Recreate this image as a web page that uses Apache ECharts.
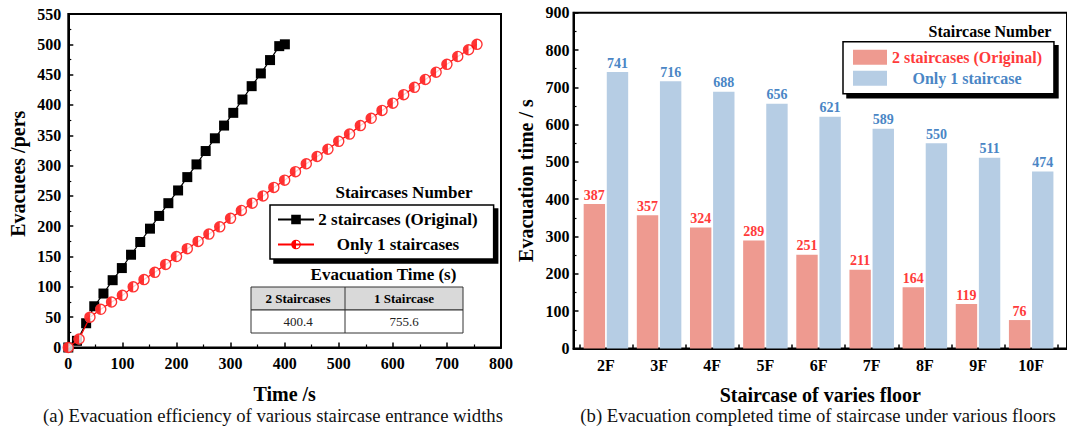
<!DOCTYPE html>
<html><head><meta charset="utf-8">
<script src="https://cdn.jsdelivr.net/npm/echarts@6/dist/echarts.min.js"></script>
<style>html,body{margin:0;padding:0;background:#fff;}#c{width:1067px;height:432px;}</style>
</head><body><div id="c"></div>
<script>
// ---- (a) cumulative evacuees vs time ----
const twoStairTime = [0,16,33,48,65,82,99,116,133,151,168,185,203,220,237,254,271,288,305,322,339,356,373,390,400.4];
const twoStairEvac = [0,11,40,68,89,111,131,153,174,196,217,238,259,281,302,324,345,366,387,409,431,452,474,497,500];
const oneStairTime = [0,20,40,60,80,100,120,140,160,180,200,220,240,260,280,300,320,340,360,380,400,420,440,460,480,500,520,540,560,580,600,620,640,660,680,700,720,740,755.6];
const oneStairEvac = [0,14,50,63,75,86,100,112,124,137,150,163,175,187,199,213,226,238,250,264,276,290,303,315,327,340,352,366,378,391,403,417,429,442,454,467,480,491,500];
const tableHeaders = ['2 Staircases','1 Staircase'];
const tableValues = ['400.4','755.6'];
// ---- (b) evacuation completed time per floor ----
const floors = ['2F','3F','4F','5F','6F','7F','8F','9F','10F'];
const twoStairsFloor = [387,357,324,289,251,211,164,119,76];
const oneStairFloor = [741,716,688,656,621,589,550,511,474];

const FONT = 'Liberation Serif';
const chart = echarts.init(document.getElementById('c'), null, {renderer:'svg'});
const halfPath = 'path://M10 0A10 10 0 1 1 10 20A10 10 0 1 1 10 0ZM10 17.6A7.6 7.6 0 0 0 10 2.4Z';
const lab = (sz, w) => ({fontFamily:FONT, fontWeight:w||'bold', fontSize:sz, color:'#000'});
const redPts = oneStairTime.map((t,i)=>[t, oneStairEvac[i]]);
const blackPts = twoStairTime.map((t,i)=>[t, twoStairEvac[i]]);

const floorIdx = floors.map((_,i)=>i);
const floorBounds = floors.map((_,i)=>i-0.5).concat([floors.length-0.5]);

function axisCommon(){
  return {
    axisLine:{show:true, onZero:false, lineStyle:{color:'#000', width:2}},
    axisTick:{show:true, inside:true, length:5, lineStyle:{color:'#000', width:1.5}},
    minorTick:{show:true, splitNumber:2, length:3, lineStyle:{color:'#000', width:1.2}},
    splitLine:{show:false},
    nameTextStyle:lab(20)
  };
}
function txt(x, y, s, size, weight, fill){
  return {type:'text', x:x, y:y, style:{text:s, font:(weight==='bold'?'bold ':'')+size+'px '+FONT, fontFamily:FONT, fontSize:size, fontWeight:weight, fill:fill||'#000', align:'center', verticalAlign:'middle'}};
}

// table graphic built from arrays
const tbl = {x:251, y:287, colW:[94,118], rowH:23};
const tblEls = [];
const tw = tbl.colW[0]+tbl.colW[1];
tblEls.push({type:'rect', shape:{x:tbl.x, y:tbl.y, width:tw, height:tbl.rowH}, style:{fill:'#D9D9D9', stroke:'#333', lineWidth:1}});
tblEls.push({type:'rect', shape:{x:tbl.x, y:tbl.y+tbl.rowH, width:tw, height:tbl.rowH}, style:{fill:'#fff', stroke:'#333', lineWidth:1}});
tblEls.push({type:'line', shape:{x1:tbl.x+tbl.colW[0], y1:tbl.y, x2:tbl.x+tbl.colW[0], y2:tbl.y+2*tbl.rowH}, style:{stroke:'#333', lineWidth:1}});
let cx = tbl.x;
tableHeaders.forEach((h,i)=>{
  const mid = cx + tbl.colW[i]/2;
  tblEls.push(txt(mid, tbl.y+tbl.rowH/2, h, 13, 'bold', '#000'));
  tblEls.push(txt(mid, tbl.y+tbl.rowH*1.5, tableValues[i], 13, 'normal', '#222'));
  cx += tbl.colW[i];
});

const option = {
  animation:false,
  backgroundColor:'#fff',
  textStyle:{fontFamily:FONT},
  grid:[
    {left:68.3, top:14, width:432.7, height:333.5, show:true, borderColor:'#000', borderWidth:2, backgroundColor:'transparent'},
    {left:573.5, top:12.7, right:-6, height:335.7, show:true, borderColor:'#000', borderWidth:2, backgroundColor:'transparent'}
  ],
  xAxis:[
    Object.assign(axisCommon(), {type:'value', gridIndex:0, min:0, max:800, interval:100,
      axisLabel:Object.assign(lab(16), {margin:8}),
      name:'Time /s', nameLocation:'middle', nameGap:36}),
    Object.assign(axisCommon(), {type:'value', gridIndex:1, min:-0.61, max:8.674,
      axisTick:{show:true, inside:true, length:4, lineStyle:{color:'#000', width:1.5}, customValues:floorBounds},
      minorTick:{show:false},
      axisLabel:Object.assign(lab(16), {margin:9, customValues:floorIdx, formatter:v=>floors[Math.round(v)]}),
      name:'Staircase of varies floor', nameLocation:'middle', nameGap:37})
  ],
  yAxis:[
    Object.assign(axisCommon(), {type:'value', gridIndex:0, min:0, max:550, interval:50,
      axisLabel:Object.assign(lab(16), {margin:7}),
      name:'Evacuees /pers', nameLocation:'middle', nameGap:40, nameTextStyle:Object.assign(lab(20), {padding:[0,0,0,14]})}),
    Object.assign(axisCommon(), {type:'value', gridIndex:1, min:0, max:900, interval:100,
      axisLabel:Object.assign(lab(16), {margin:4}),
      name:'Evacuation time / s', nameLocation:'middle', nameGap:38})
  ],
  legend:[
    {left:270, top:205, orient:'vertical', itemWidth:36, itemHeight:12, itemGap:8,
      padding:[6,16,6,7], borderColor:'#000', borderWidth:1.5, backgroundColor:'#fff',
      shadowColor:'#000', shadowOffsetX:4, shadowOffsetY:4, shadowBlur:0,
      data:['2 staircases (Original)','Only 1 staircases'],
      formatter:n=>'{a|'+n+'}',
      textStyle:{fontFamily:FONT, rich:{a:Object.assign(lab(17), {width:158, align:'center'})}}},
    {left:843, top:41.7, orient:'vertical', itemWidth:34, itemHeight:15, itemGap:5, icon:'rect',
      padding:[7.6,12,7.4,10], borderColor:'#000', borderWidth:1.5, backgroundColor:'#fff',
      shadowColor:'#000', shadowOffsetX:4, shadowOffsetY:4, shadowBlur:0,
      data:['2 staircases (Original) ','Only 1 staircase'],
      formatter:n=>(n.indexOf('2')===0 ? '{r|' : '{b|')+n.trim()+'}',
      textStyle:{fontFamily:FONT, rich:{
        r:Object.assign(lab(16), {width:150, align:'center', color:'#FF3B3B'}),
        b:Object.assign(lab(16), {width:150, align:'center', color:'#4A86C5'})}}}
  ],
  series:[
    {type:'line', name:'2 staircases (Original)', xAxisIndex:0, yAxisIndex:0, data:blackPts,
      symbol:'rect', symbolSize:10, itemStyle:{color:'#000'}, lineStyle:{color:'#000', width:1.2}, z:2},
    {type:'line', name:'Only 1 staircases', xAxisIndex:0, yAxisIndex:0, data:redPts,
      showSymbol:false, symbol:halfPath, symbolSize:11, itemStyle:{color:'#FF0000'}, lineStyle:{color:'#FF0000', width:1.2}, z:3},
    {type:'scatter', xAxisIndex:0, yAxisIndex:0, data:redPts, symbol:'circle', symbolSize:11,
      itemStyle:{color:'#fff'}, z:4, silent:true},
    {type:'scatter', xAxisIndex:0, yAxisIndex:0, data:redPts, symbol:halfPath, symbolSize:11.5,
      itemStyle:{color:'#FF0000'}, z:5, silent:true},
    {type:'bar', name:'2 staircases (Original) ', xAxisIndex:1, yAxisIndex:1,
      data:twoStairsFloor.map((v,i)=>[i,v]), barWidth:21.4, barGap:'8%',
      itemStyle:{color:'#EE9A90'},
      label:{show:true, position:'top', distance:2, formatter:p=>p.value[1], fontFamily:FONT, fontWeight:'bold', fontSize:14, color:'#FF3B3B'}},
    {type:'bar', name:'Only 1 staircase', xAxisIndex:1, yAxisIndex:1,
      data:oneStairFloor.map((v,i)=>[i,v]), barWidth:21.4, barGap:'8%',
      itemStyle:{color:'#B6CDE4'},
      label:{show:true, position:'top', distance:2, formatter:p=>p.value[1], fontFamily:FONT, fontWeight:'bold', fontSize:14, color:'#4A86C5'}}
  ],
  graphic:[
    txt(404, 192, 'Staircases Number', 17, 'bold'),
    txt(383.5, 274.5, 'Evacuation Time (s)', 17, 'bold'),
    txt(990, 31, 'Staircase Number', 16, 'bold'),
    txt(273, 415, '(a) Evacuation efficiency of various staircase entrance widths', 18.7, 'normal', '#111'),
    txt(818, 415, '(b) Evacuation completed time of staircase under various floors', 18.7, 'normal', '#111')
  ].concat(tblEls)
};
chart.setOption(option);
</script></body></html>
